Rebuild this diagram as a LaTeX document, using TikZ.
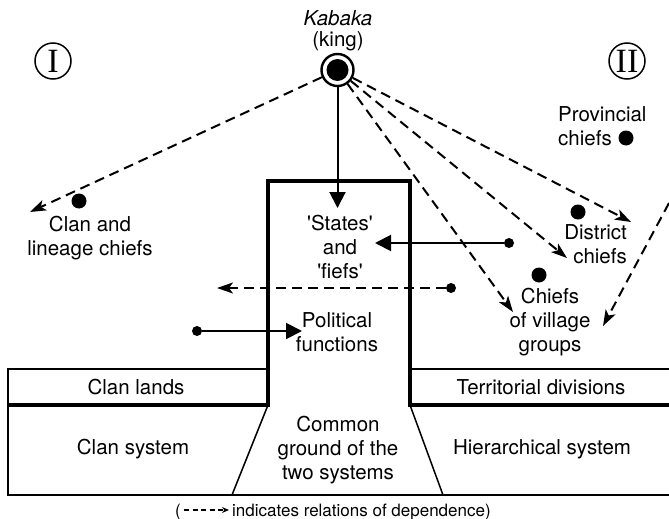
\documentclass[tikz,border=0pt]{standalone}
\usepackage{fontspec}
\setmainfont{TeX Gyre Heros}
\newfontfamily\numfont{Liberation Serif}
\usetikzlibrary{arrows.meta}
\begin{document}
\begin{tikzpicture}[x=1pt,y=-1pt,
  lbl/.style={font=\fontsize{20.5}{24}\selectfont, align=center, inner sep=0pt},
  dep/.style={line width=2pt, dash pattern=on 10pt off 6pt, -{Stealth[length=16pt,width=11pt,inset=4pt]}},
  solidarr/.style={line width=2pt, -{Triangle[length=16pt,width=16pt]}},
  bigdot/.style={circle, fill, inner sep=0pt, minimum size=15pt},
  smalldot/.style={circle, fill, inner sep=0pt, minimum size=10pt},
  wall/.style={line width=4pt, line join=miter},
  thinline/.style={line width=1.5pt},
  roman/.style={circle, draw, line width=1.5pt, minimum size=36pt, inner sep=0pt, font=\numfont\fontsize{34}{34}\selectfont}
]
\useasboundingbox (0,0) rectangle (669,519);

% bands and tower
\draw[thinline] (268,369) -- (8,369) -- (8,495) -- (669,495);
\draw[thinline] (410,369) -- (669,369);
\draw[thinline] (268,405) -- (232,495);
\draw[thinline] (410,405) -- (443,495);
\draw[wall] (8,405) -- (268,405) -- (268,181) -- (410,181) -- (410,405) -- (669,405);

% king
\node[circle, draw, line width=2.4pt, minimum size=32pt, inner sep=0pt] (king) at (337.5,70) {};
\fill (king.center) circle (11pt);
\node[lbl] (kabaka) at (338,18) {\itshape Kabaka};
\node[lbl] (kingtext) at (338,41) {(king)};

% roman numerals
\node[roman] (romI) at (53,61) {I};
\node[roman] (romII) at (627,61) {II};

% labels
\node[lbl] (clanchiefs) at (90,238) {Clan and\\lineage chiefs};
\node[lbl, align=left, anchor=west] (prov) at (558,126) {Provincial\\chiefs};
\node[lbl, align=right, anchor=east] (district) at (627,244) {District\\chiefs};
\node[lbl] (village) at (550,322) {Chiefs\\of village\\groups};
\node[lbl] (states) at (340,247) {\textquotesingle States\textquotesingle\\and\\\textquotesingle fiefs\textquotesingle};
\node[lbl] (political) at (337,332) {Political\\functions};
\node[lbl] (clanlands) at (136,387) {Clan lands};
\node[lbl] (terr) at (541,387) {Territorial divisions};
\node[lbl] (clansys) at (133,449) {Clan system};
\node[lbl] (hiersys) at (542,449) {Hierarchical system};
\node[lbl] (common) at (338,450) {Common\\ground of the\\two systems};

% dots
\node[bigdot] (dclan) at (79,201) {};
\node[bigdot] (dprov) at (626,138) {};
\node[bigdot] (ddist) at (578,212) {};
\node[bigdot] (dvill) at (539,275) {};
\node[smalldot] (d1) at (509,243) {};
\node[smalldot] (d2) at (451,288) {};
\node[smalldot] (d3) at (197,331) {};

% arrow end points
\coordinate (tipDown) at (337.5,208);
\coordinate (tipA) at (375,243);
\coordinate (tipB) at (217,288);
\coordinate (tipC) at (302,331);
\coordinate (tipL) at (30,212);
\coordinate (tipR1) at (631,222);
\coordinate (tipR2) at (567,258);
\coordinate (tipR3) at (513,312);
\coordinate (tipR4) at (603,326);
\coordinate (startR4) at (669,203);

% connectors
\draw[solidarr] (king) -- (tipDown);
\draw[solidarr] (d1) -- (tipA);
\draw[dep] (d2) -- (tipB);
\draw[solidarr] (d3) -- (tipC);
\draw[dep] (king) -- (tipL);
\draw[dep] (king) -- (tipR1);
\draw[dep] (king) -- (tipR2);
\draw[dep] (king) -- (tipR3);
\draw[dep] (startR4) -- (tipR4);

% caption
\node[font=\fontsize{17}{20}\selectfont, inner sep=0pt, anchor=base west] (captext) at (232,516) {indicates relations of dependence)};
\node[font=\fontsize{17}{20}\selectfont, inner sep=0pt, anchor=base east] (lpar) at (181,516) {(};
\coordinate (capA) at (184,510);
\coordinate (capB) at (229,510);
\draw[line width=1.3pt, dash pattern=on 5pt off 3.5pt, -{Stealth[length=7pt,width=6pt]}] (capA) -- (capB);
\end{tikzpicture}
\end{document}
